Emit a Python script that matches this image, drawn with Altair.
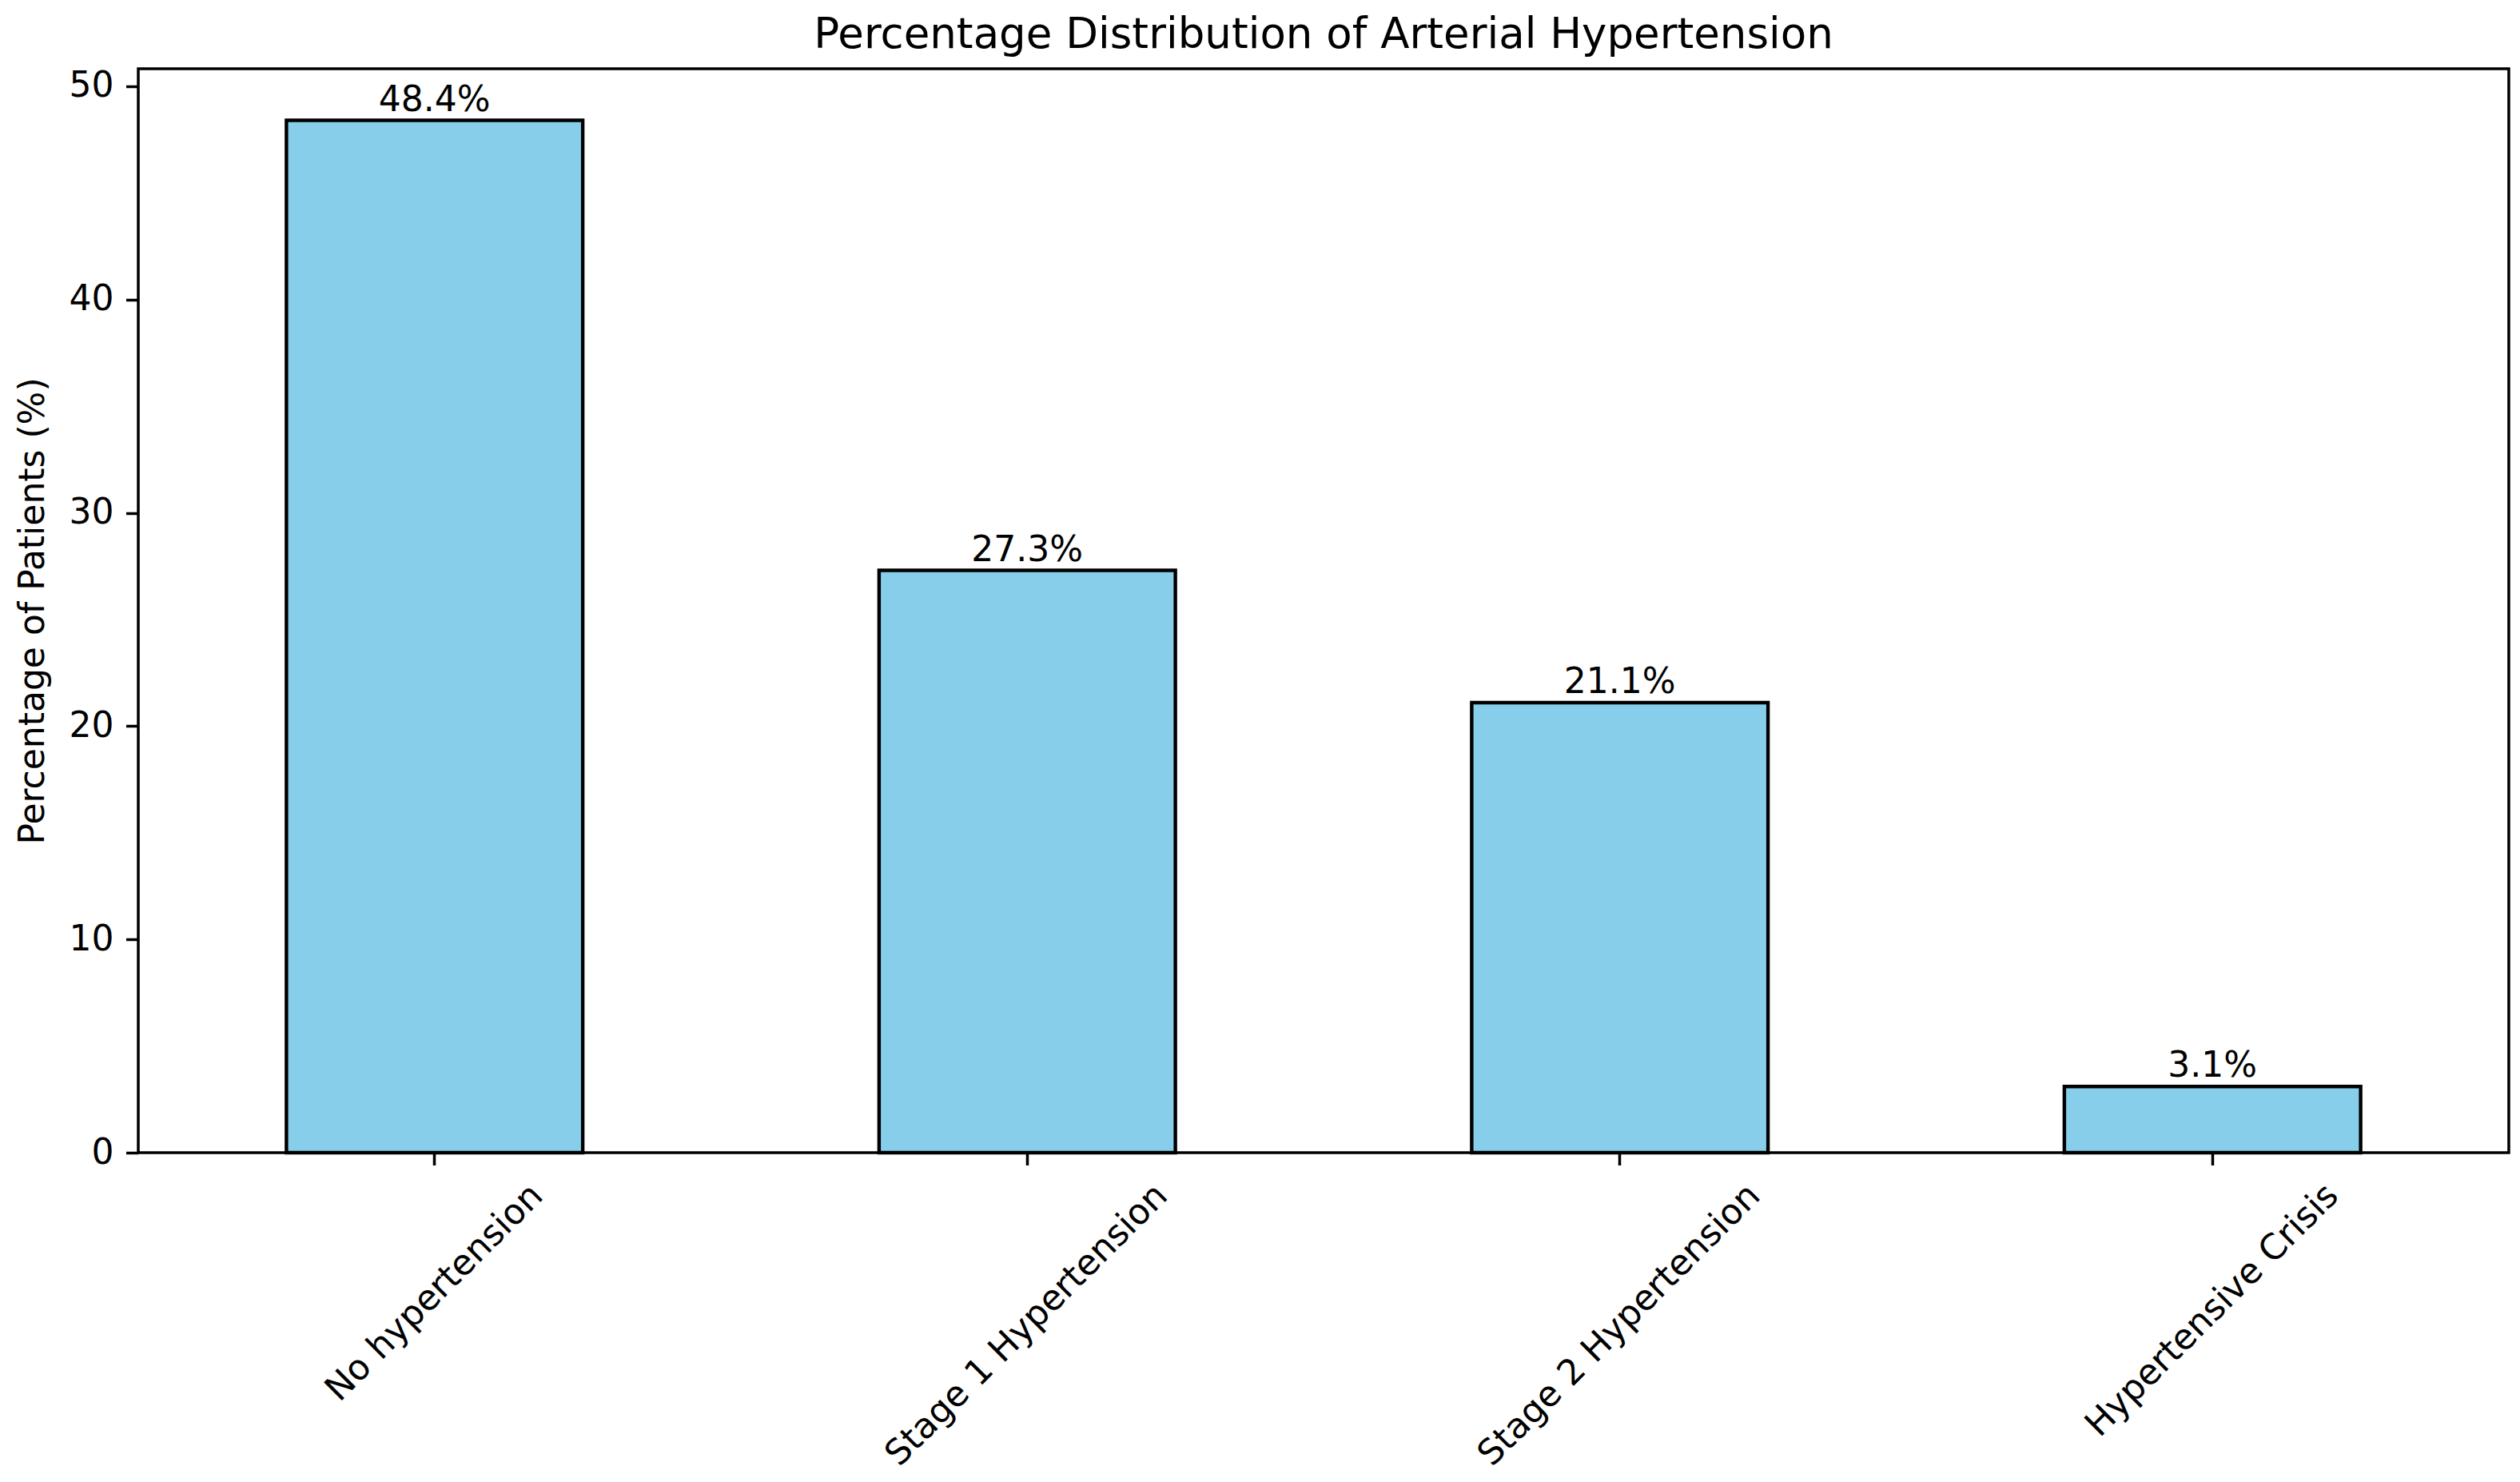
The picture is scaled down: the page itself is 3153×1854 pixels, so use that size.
import altair as alt
import pandas as pd

categories = ["No hypertension", "Stage 1 Hypertension", "Stage 2 Hypertension", "Hypertensive Crisis"]
percentages = [48.4, 27.3, 21.1, 3.1]
bar_labels = ["48.4%", "27.3%", "21.1%", "3.1%"]
y_ticks = [0, 10, 20, 30, 40, 50]

df = pd.DataFrame({"category": categories, "pct": percentages, "label": bar_labels})

FONT = "DejaVu Sans"

# shift rotated labels so their bounding box is centred on the tick (matplotlib style)
label_shift = [113, 153, 153, 135]
label_offset = {
    "condition": [
        {"test": "datum.value === '%s'" % c, "value": v}
        for c, v in zip(categories, label_shift)
    ],
    "value": 0,
}

x_enc = alt.X(
    "category:N",
    sort=categories,
    title=None,
    scale=alt.Scale(paddingInner=0.5, paddingOuter=0.25),
    axis=alt.Axis(
        labelAngle=-45,
        labelAlign="right",
        labelBaseline="top",
        labelOffset=label_offset,
        labelPadding=15.5,
        tickSize=15.5,
        tickWidth=3.5,
        tickColor="black",
        labelColor="black",
        labelFont=FONT,
        labelFontSize=44,
        labelLimit=2000,
        labelOverlap=False,
        domain=False,
        grid=False,
    ),
)

y_enc = alt.Y(
    "pct:Q",
    scale=alt.Scale(domain=[0, 50.82], nice=False, zero=True),
    axis=alt.Axis(
        values=y_ticks,
        title="Percentage of Patients (%)",
        titleFont=FONT,
        titleFontSize=44,
        titleFontWeight="normal",
        titleColor="black",
        titlePadding=23,
        labelPadding=15.5,
        tickSize=15.5,
        tickWidth=3.5,
        tickColor="black",
        labelColor="black",
        labelFont=FONT,
        labelFontSize=44,
        domain=False,
        grid=False,
    ),
)

base = alt.Chart(df).encode(x=x_enc, y=y_enc)

bars = base.mark_bar(color="#87CEEB", stroke="black", strokeWidth=4.4)
texts = base.mark_text(
    baseline="alphabetic", dy=-12, fontSize=44, font=FONT, color="black"
).encode(text="label:N")

chart = (
    alt.layer(bars, texts)
    .properties(
        width=2966,
        height=1356,
        title=alt.TitleParams(
            "Percentage Distribution of Arterial Hypertension",
            font=FONT,
            fontSize=53,
            fontWeight="normal",
            color="black",
            offset=15,
            anchor="middle",
        ),
        padding={"left": 165, "top": 78, "right": 6, "bottom": 404},
        autosize=alt.AutoSizeParams(type="none"),
        background="white",
    )
    .configure_view(stroke="black", strokeWidth=3.5)
)

chart.save("out.html", embed_options={"renderer": "svg", "actions": False})
